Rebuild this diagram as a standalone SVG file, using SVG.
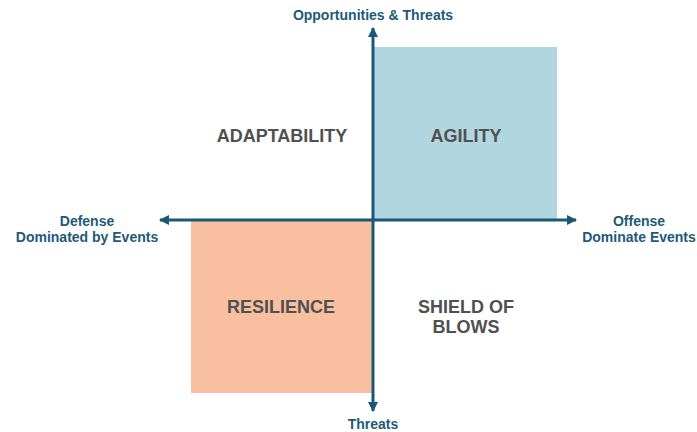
<svg xmlns="http://www.w3.org/2000/svg" width="697" height="432" viewBox="0 0 697 432">
<style>
.axis{stroke:#1a5877;stroke-width:3;fill:none}
.lbl{font-family:"Liberation Sans",Arial,sans-serif;font-weight:bold;font-size:14px;fill:#1d5a78;text-anchor:middle}
.q{font-family:"Liberation Sans",Arial,sans-serif;font-weight:bold;font-size:18px;fill:#505050;text-anchor:middle}
</style>
<defs>
<marker id="ah" viewBox="0 0 10 10" refX="9" refY="5" markerWidth="10" markerHeight="10" markerUnits="userSpaceOnUse" orient="auto">
<path d="M0,0 L10,5 L0,10 Z" fill="#1a5877"/>
</marker>
</defs>
<rect width="697" height="432" fill="#ffffff"/>
<g id="agility">
<rect x="374" y="47" width="183" height="173" fill="#b1d6e0"/>
<text class="q" x="466" y="142">AGILITY</text>
</g>
<g id="resilience">
<rect x="191" y="221" width="182" height="172" fill="#f8bfa1"/>
<text class="q" x="281" y="313">RESILIENCE</text>
</g>
<g id="adaptability">
<text class="q" x="282" y="142">ADAPTABILITY</text>
</g>
<g id="shield">
<text class="q" x="466" y="313">SHIELD OF</text>
<text class="q" x="466" y="333">BLOWS</text>
</g>
<g id="connectors">
<line class="axis" x1="373" y1="220" x2="373" y2="28" marker-end="url(#ah)"/>
<line class="axis" x1="373" y1="220" x2="373" y2="411" marker-end="url(#ah)"/>
<line class="axis" x1="373" y1="220" x2="160" y2="220" marker-end="url(#ah)"/>
<line class="axis" x1="373" y1="220" x2="576" y2="220" marker-end="url(#ah)"/>
</g>
<g id="labels">
<text class="lbl" x="373" y="20">Opportunities &amp; Threats</text>
<text class="lbl" x="373" y="429">Threats</text>
<text class="lbl" x="87" y="226">Defense</text>
<text class="lbl" x="87" y="242">Dominated by Events</text>
<text class="lbl" x="639" y="226">Offense</text>
<text class="lbl" x="639" y="242">Dominate Events</text>
</g>
</svg>
